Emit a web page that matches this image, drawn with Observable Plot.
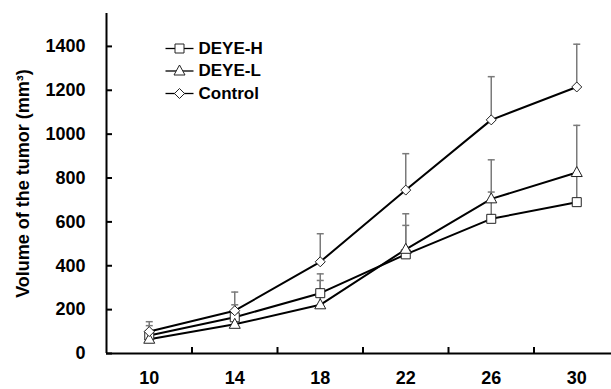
<!DOCTYPE html>
<html>
<head>
<meta charset="utf-8">
<script src="https://cdn.jsdelivr.net/npm/d3@7"></script>
<script src="https://cdn.jsdelivr.net/npm/@observablehq/plot@0.6"></script>
<style>
  html, body { margin: 0; padding: 0; background: #fff; }
  #chart { width: 611px; height: 389px; overflow: hidden; }
</style>
</head>
<body>
<div id="chart"></div>
<script>
// ---- data ----
const days = [10, 14, 18, 22, 26, 30];
const seriesNames = ["DEYE-H", "DEYE-L", "Control"];
const deyeH     = [82, 165, 275, 452, 614, 690];
const deyeHErr  = [45, 57, 88, 132, 122, 130];
const deyeL     = [65, 133, 222, 475, 705, 825];
const deyeLErr  = [40, 50, 111, 162, 178, 215];
const control   = [100, 195, 418, 745, 1065, 1215];
const controlErr= [45, 85, 128, 166, 197, 195];
const yTicks = [0, 200, 400, 600, 800, 1000, 1200, 1400];
const yTitle = "Volume of the tumor (mm³)";

const means = [deyeH, deyeL, control];
const errs = [deyeHErr, deyeLErr, controlErr];
const rows = [];
seriesNames.forEach((s, i) => days.forEach((d, j) =>
  rows.push({series: s, day: d, value: means[i][j], err: errs[i][j]})));

// category boundaries (Excel-style tick marks between categories)
const step = days[1] - days[0];
const xDomain = [days[0] - step / 2, days[days.length - 1] + step / 2];
const boundaries = days.slice(1).map(d => d - step / 2);

// ---- symbols ----
const sq  = {draw(c){c.moveTo(-4.5,-4.5);c.lineTo(4.5,-4.5);c.lineTo(4.5,4.5);c.lineTo(-4.5,4.5);c.closePath();}};
const tri = {draw(c){c.moveTo(0,-6);c.lineTo(5.5,4);c.lineTo(-5.5,4);c.closePath();}};
const dia = {draw(c){c.moveTo(0,-5);c.lineTo(5,0);c.lineTo(0,5);c.lineTo(-5,0);c.closePath();}};
const cap = {draw(c){c.moveTo(-3.5,0);c.lineTo(3.5,0);}};
const legLine = {draw(c){c.moveTo(-14,0);c.lineTo(14,0);}};
const symbols = [sq, tri, dia];

const font = "'Liberation Sans', Arial, Helvetica, sans-serif";

const legendMarks = [];
seriesNames.forEach((s, i) => {
  const dy = 35 + 22.5 * i;
  legendMarks.push(
    Plot.dot([s], {frameAnchor: "top-left", dx: 73, dy, symbol: legLine, stroke: "#000", strokeWidth: 1.3, fill: "none"}),
    Plot.dot([s], {frameAnchor: "top-left", dx: 73, dy, symbol: symbols[i], stroke: "#222", strokeWidth: 1, fill: "#fff"}),
    Plot.text([s], {frameAnchor: "top-left", dx: 92, dy, text: d => d, textAnchor: "start", lineAnchor: "middle",
      fontSize: 17, fontWeight: "bold", fill: "#000"})
  );
});

const chart = Plot.plot({
  width: 611,
  height: 389,
  marginLeft: 106,
  marginRight: -8,
  marginTop: 13,
  marginBottom: 36,
  style: {fontFamily: font, background: "#fff", color: "#000", overflow: "visible"},
  x: {type: "linear", domain: xDomain, label: null},
  y: {domain: [0, 1550], label: null},
  marks: [
    // error bars (upper only)
    Plot.ruleX(rows, {x: "day", y1: "value", y2: d => d.value + d.err, stroke: "#7a7a7a", strokeWidth: 1.5}),
    Plot.dot(rows, {x: "day", y: d => d.value + d.err, symbol: cap, stroke: "#7a7a7a", strokeWidth: 1.5, fill: "none"}),
    // lines
    Plot.line(rows, {x: "day", y: "value", z: "series", stroke: "#000", strokeWidth: 2}),
    // markers
    ...seriesNames.map((s, i) => Plot.dot(rows.filter(r => r.series === s),
      {x: "day", y: "value", symbol: symbols[i], stroke: "#222", strokeWidth: 1, fill: "#fff"})),
    // axes
    Plot.ruleY([0], {stroke: "#000", strokeWidth: 2}),
    Plot.ruleX([xDomain[0]], {stroke: "#000", strokeWidth: 2}),
    Plot.axisY({ticks: yTicks, tickSize: 6, dx: 6, tickFormat: () => "", label: null, stroke: "#000", strokeWidth: 2}),
    Plot.axisY({ticks: yTicks, tickSize: 0, tickPadding: 21, tickFormat: d => String(d), label: null,
      fontSize: 18, fontWeight: "bold", fill: "#000"}),
    Plot.axisX({ticks: boundaries, tickSize: 6, dy: -6, tickFormat: () => "", label: null, stroke: "#000", strokeWidth: 2}),
    Plot.axisX({ticks: days, tickSize: 0, tickPadding: 18, tickFormat: d => String(d), label: null,
      fontSize: 18, fontWeight: "bold", fill: "#000"}),
    Plot.text([yTitle], {frameAnchor: "left", dx: -83, rotate: -90, text: d => d, textAnchor: "middle",
      lineAnchor: "middle", fontSize: 18, fontWeight: "bold", fill: "#000"}),
    ...legendMarks
  ]
});
document.getElementById("chart").appendChild(chart);
</script>
</body>
</html>
